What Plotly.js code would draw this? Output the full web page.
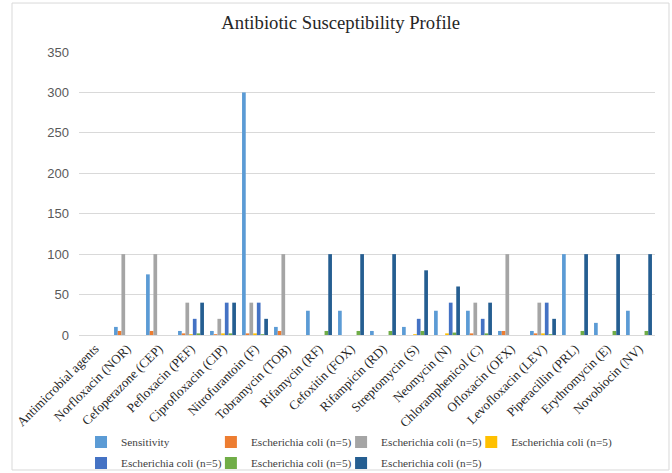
<!DOCTYPE html>
<html>
<head>
<meta charset="utf-8">
<script src="https://cdn.plot.ly/plotly-3.0.1.min.js"></script>
<style>html,body{margin:0;padding:0;background:#fff;}#chart{width:672px;height:473px;}</style>
</head>
<body>
<div id="chart"></div>
<script>
const categories = ["Antimicrobial agents","Norfloxacin (NOR)","Cefoperazone (CEP)","Pefloxacin (PEF)","Ciprofloxacin (CIP)","Nitrofurantoin (F)","Tobramycin (TOB)","Rifamycin (RF)","Cefoxitin (FOX)","Rifampicin (RD)","Streptomycin (S)","Neomycin (N)","Chloramphenicol (C)","Ofloxacin (OFX)","Levofloxacin (LEV)","Piperacillin (PRL)","Erythromycin (E)","Novobiocin (NV)"];
const seriesNames = ["Sensitivity","Escherichia coli (n=5)","Escherichia coli (n=5)","Escherichia coli (n=5)","Escherichia coli (n=5)","Escherichia coli (n=5)","Escherichia coli (n=5)"];
const sensitivity = [null,10,75,5,5,300,10,30,30,5,10,30,30,5,5,100,15,30];
const ecoli1 = [null,5,5,2,1,2,5,0,0,0,0,0,2,5,2,0,0,0];
const ecoli2 = [null,100,100,40,20,40,100,0,0,0,0,0,40,100,40,0,0,0];
const ecoli3 = [null,0,0,1,2,2,0,0,0,0,1,2,0,0,2,0,0,0];
const ecoli4 = [null,0,0,20,40,40,0,0,0,0,20,40,20,0,40,0,0,0];
const ecoli5 = [null,0,0,2,2,1,0,5,5,5,5,3,2,0,1,5,5,5];
const ecoli6 = [null,0,0,40,40,20,0,100,100,100,80,60,40,0,20,100,100,100];
const colors = ["#5B9BD5","#ED7D31","#A5A5A5","#FFC000","#4472C4","#70AD47","#255E91"];

const allSeries = [sensitivity, ecoli1, ecoli2, ecoli3, ecoli4, ecoli5, ecoli6];
const legendIds = ["legend","legend2","legend3","legend4","legend5","legend6","legend7"];
const traces = allSeries.map((vals, i) => ({
  type: "bar",
  x: categories,
  y: vals,
  name: seriesNames[i],
  marker: {color: colors[i]},
  legend: legendIds[i],
  hoverinfo: "none"
}));

const serif = "Liberation Serif, Times New Roman, serif";
// legend grid: 4 entries in the first row, 3 in the second
const legendCols = [0.0035, 0.229, 0.455, 0.681, 0.0035, 0.229, 0.455];
const legendRows = [-0.378, -0.378, -0.378, -0.378, -0.452, -0.452, -0.452];

const layout = {
  width: 672,
  height: 473,
  margin: {l: 79, r: 17, t: 52, b: 138, autoexpand: false},
  paper_bgcolor: "#ffffff",
  plot_bgcolor: "#ffffff",
  title: {
    text: "Antibiotic Susceptibility Profile",
    font: {family: serif, size: 18.7, color: "#262626"},
    x: 0.507, xanchor: "center",
    y: 0.953, yanchor: "middle", yref: "container"
  },
  barmode: "group",
  bargap: 0.19,
  bargroupgap: 0,
  xaxis: {
    type: "category",
    tickangle: -45,
    tickfont: {family: serif, size: 13, color: "#262626"},
    showgrid: false,
    showline: true,
    linecolor: "#d9d9d9",
    linewidth: 1,
    ticks: "",
    automargin: false
  },
  yaxis: {
    range: [0, 350],
    dtick: 50,
    tick0: 0,
    showgrid: true,
    gridcolor: "#d9d9d9",
    gridwidth: 1,
    zeroline: false,
    showline: false,
    ticks: "",
    ticklabelstandoff: 9,
    tickfont: {family: "Liberation Sans, Arial, sans-serif", size: 13, color: "#595959"},
    automargin: false
  },
  shapes: [{
    type: "rect", xref: "paper", yref: "paper",
    x0: -0.1163, x1: 1.0243, y0: -0.477, y1: 1.173,
    line: {color: "#d9d9d9", width: 1}
  }],
  showlegend: true
};

legendIds.forEach((id, i) => {
  layout[id] = {
    orientation: "h",
    xanchor: "left",
    yanchor: "middle",
    x: legendCols[i],
    y: legendRows[i],
    font: {family: serif, size: 11.3, color: "#404040"},
    itemwidth: 30,
    bgcolor: "rgba(0,0,0,0)"
  };
});

Plotly.newPlot("chart", traces, layout, {displayModeBar: false, staticPlot: true});
</script>
</body>
</html>
